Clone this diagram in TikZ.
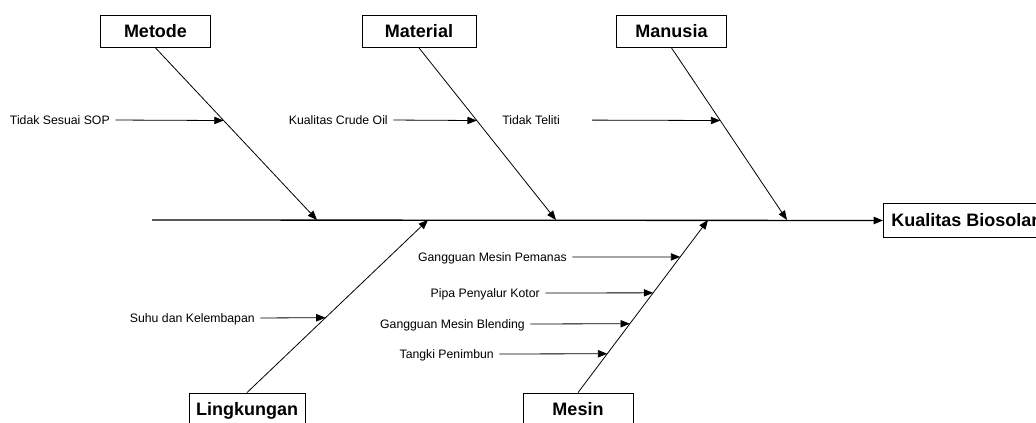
\documentclass[tikz,border=0pt]{standalone}
\usepackage{fontspec}
\setmainfont{Liberation Sans}
\usetikzlibrary{arrows.meta}
\tikzset{
  cause/.style={draw, line width=0.6pt, font=\bfseries\fontsize{13.5}{16}\selectfont,
    minimum height=24pt, inner sep=0pt, text height=9.7pt, text depth=0pt},
  reason/.style={font=\fontsize{9.2}{11}\selectfont, inner sep=0pt, anchor=east,
    text height=6.6pt, text depth=0pt},
  bone/.style={line width=0.6pt, -{Triangle[length=7pt,width=5.5pt]}},
  twig/.style={bone, shorten <=4pt},
}
\begin{document}
\begin{tikzpicture}[x=0.75pt,y=-0.75pt]
        \useasboundingbox (0,0) rectangle (1036,423);
        \clip (0,0) rectangle (1036,423);
        % heads
        \node[cause, minimum width=82pt] (metode) at (155.5,31.5) {Metode};
        \node[cause, minimum width=85.5pt] (material) at (419,31.5) {Material};
        \node[cause, minimum width=82pt] (manusia) at (671.5,31.5) {Manusia};
        \node[cause, minimum width=87pt] (lingkungan) at (247,409) {Lingkungan};
        \node[cause, minimum width=82.5pt] (mesin) at (578,409) {Mesin};
        \node[cause, anchor=west, inner xsep=6pt, minimum height=25pt] (biosolar) at (883,220.5) {Kualitas Biosolar};
        % spine
        \coordinate (tail) at (152,220);
        \coordinate (j1) at (317,220);
        \coordinate (j2) at (556,220);
        \coordinate (j3) at (787,220);
        \coordinate (j4) at (428,220);
        \coordinate (j5) at (708,220);
        \draw[line width=1pt, -{Triangle[length=7pt,width=5.5pt]}] (tail) -- (biosolar.west);
        % bones
        \draw[bone] (metode.south) -- coordinate[pos=0.422] (b1) (j1);
        \draw[bone] (material.south) -- coordinate[pos=0.422] (b2) (j2);
        \draw[bone] (manusia.south) -- coordinate[pos=0.422] (b3) (j3);
        \draw[bone] (lingkungan.north) -- coordinate[pos=0.434] (b4) (j4);
        \draw[bone] (mesin.north) -- coordinate[pos=0.786] (b5) coordinate[pos=0.578] (b6)
          coordinate[pos=0.399] (b7) coordinate[pos=0.225] (b8) (j5);
        % reasons
        \node[reason] (sop) at (110,120) {Tidak Sesuai SOP};
        \node[reason] (crude) at (388,120) {Kualitas Crude Oil};
        \node[reason] (teliti) at (560,120) {Tidak Teliti};
        \node[reason] (suhu) at (255,318) {Suhu dan Kelembapan};
        \node[reason] (pemanas) at (567,257) {Gangguan Mesin Pemanas};
        \node[reason] (pipa) at (540,293) {Pipa Penyalur Kotor};
        \node[reason] (blending) at (525,324) {Gangguan Mesin Blending};
        \node[reason] (tangki) at (494,354) {Tangki Penimbun};
        \draw[twig] (sop.east) -- (b1);
        \draw[twig] (crude.east) -- (b2);
        \draw[twig, shorten <=24pt] (teliti.east) -- (b3);
        \draw[twig] (suhu.east) -- (b4);
        \draw[twig] (pemanas.east) -- (b5);
        \draw[twig] (pipa.east) -- (b6);
        \draw[twig] (blending.east) -- (b7);
        \draw[twig] (tangki.east) -- (b8);
      \end{tikzpicture}
\end{document}
